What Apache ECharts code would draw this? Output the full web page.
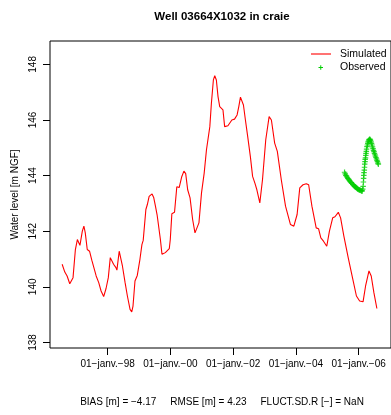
<!DOCTYPE html>
<html>
<head>
<meta charset="utf-8">
<script src="https://cdn.jsdelivr.net/npm/echarts@6/dist/echarts.min.js"></script>
<style>html,body{margin:0;padding:0;background:#fff}#c{width:391px;height:415px}</style>
</head>
<body>
<div id="c"></div>
<script>
// Simulated water level (decimal years, m NGF)
const simYears = [1996.551,1996.636,1996.709,1996.794,1996.847,1996.898,1996.973,1997.036,1997.118,1997.194,1997.244,1997.288,1997.351,1997.424,1997.496,1997.559,1997.635,1997.717,1997.792,1997.874,1997.950,1998.022,1998.085,1998.139,1998.189,1998.265,1998.296,1998.369,1998.400,1998.472,1998.557,1998.630,1998.715,1998.769,1998.809,1998.872,1998.945,1999.030,1999.093,1999.134,1999.219,1999.266,1999.323,1999.417,1999.471,1999.524,1999.575,1999.597,1999.682,1999.732,1999.839,1999.965,1999.997,2000.047,2000.132,2000.205,2000.280,2000.362,2000.431,2000.488,2000.551,2000.627,2000.709,2000.784,2000.835,2000.910,2000.992,2001.077,2001.150,2001.203,2001.257,2001.307,2001.370,2001.414,2001.465,2001.518,2001.572,2001.622,2001.676,2001.729,2001.780,2001.833,2001.887,2001.959,2002.044,2002.126,2002.180,2002.233,2002.274,2002.328,2002.391,2002.463,2002.548,2002.620,2002.693,2002.756,2002.850,2002.935,2003.039,2003.146,2003.219,2003.323,2003.408,2003.534,2003.669,2003.827,2003.934,2004.038,2004.123,2004.227,2004.331,2004.406,2004.510,2004.646,2004.721,2004.794,2004.879,2004.983,2005.068,2005.172,2005.244,2005.351,2005.424,2005.528,2005.666,2005.802,2005.928,2006.031,2006.139,2006.220,2006.328,2006.400,2006.485,2006.580];
const simLevels = [140.81,140.53,140.39,140.11,140.10,140.33,141.34,141.70,141.49,142.00,142.18,141.94,141.34,141.28,140.96,140.90,140.39,140.15,139.85,139.65,139.94,140.33,141.05,141.08,140.81,140.69,140.60,141.28,141.32,140.75,140.15,139.67,139.19,139.10,139.31,140.21,140.41,140.99,141.52,141.67,142.78,142.96,143.25,143.34,143.20,142.90,142.60,142.42,141.70,141.17,141.23,141.37,141.70,142.63,142.68,143.60,143.57,143.96,144.16,144.07,143.49,143.20,142.42,141.94,141.88,142.30,143.38,144.09,144.93,144.99,145.76,146.60,147.44,147.59,147.44,146.84,146.48,146.54,146.36,145.76,145.71,145.79,145.82,146.00,146.03,146.18,146.48,146.82,146.84,146.54,146.00,145.41,144.69,143.97,143.73,143.49,143.02,143.85,145.29,146.12,146.00,145.17,144.87,143.85,142.90,142.24,142.18,142.60,143.56,143.67,143.71,143.67,142.90,142.12,142.09,141.76,141.64,141.46,142.00,142.48,142.52,142.68,142.48,141.82,141.05,140.33,139.67,139.49,139.46,140.03,140.57,140.39,139.79,139.22];
// Observed water level
const obsYears = [2005.550,2005.572,2005.591,2005.613,2005.631,2005.654,2005.676,2005.698,2005.720,2005.742,2005.764,2005.786,2005.811,2005.833,2005.855,2005.877,2005.896,2005.918,2005.940,2005.962,2005.984,2006.006,2006.028,2006.050,2006.072,2006.094,2006.113,2006.129,2006.142,2006.151,2006.157,2006.164,2006.170,2006.180,2006.186,2006.192,2006.202,2006.208,2006.217,2006.227,2006.233,2006.243,2006.252,2006.265,2006.277,2006.290,2006.302,2006.315,2006.331,2006.346,2006.362,2006.378,2006.394,2006.409,2006.425,2006.441,2006.457,2006.472,2006.488,2006.504,2006.520,2006.535,2006.551,2006.567,2006.583,2006.598,2006.614,2006.627];
const obsLevels = [144.12,144.06,144.01,143.98,143.94,143.90,143.87,143.84,143.80,143.77,143.75,143.72,143.68,143.66,143.63,143.61,143.59,143.57,143.55,143.52,143.51,143.49,143.48,143.47,143.46,143.45,143.45,143.51,143.61,143.77,143.90,144.01,144.11,144.20,144.30,144.41,144.50,144.58,144.64,144.73,144.80,144.87,144.95,145.04,145.10,145.16,145.21,145.25,145.29,145.31,145.30,145.27,145.21,145.16,145.10,145.03,144.97,144.91,144.86,144.80,144.75,144.70,144.65,144.60,144.55,144.50,144.45,144.41];
// Axis ticks
const xTickYears = [1998, 2000, 2002, 2004, 2006];
const xTickLabels = ['01−janv.−98','01−janv.−00','01−janv.−02','01−janv.−04','01−janv.−06'];
const yTicks = [138, 140, 142, 144, 146, 148];
const titleText = 'Well 03664X1032 in craie';
const statsText = 'BIAS [m] = −4.17     RMSE [m] = 4.23     FLUCT.SD.R [−] = NaN';
const yName = 'Water level [m NGF]';
const legendNames = ['Simulated', 'Observed'];

const FONT = '"Liberation Sans", Arial, Helvetica, sans-serif';
const RED = '#FF0000', GREEN = '#00CD00';
const PLUS = 'path://M-0.22,-1L0.22,-1L0.22,-0.22L1,-0.22L1,0.22L0.22,0.22L0.22,1L-0.22,1L-0.22,0.22L-1,0.22L-1,-0.22L-0.22,-0.22Z';

const chart = echarts.init(document.getElementById('c'), null, {renderer: 'canvas'});
chart.setOption({
  animation: false,
  backgroundColor: '#fff',
  title: [
    {text: titleText, left: 222, top: 11, padding: 0, textAlign: 'center',
     textStyle: {fontFamily: FONT, fontSize: 11.5, fontWeight: 'bold', color: '#000'}},
    {text: statsText, left: 222, top: 397, padding: 0, textAlign: 'center',
     textStyle: {fontFamily: FONT, fontSize: 10, fontWeight: 'normal', color: '#000'}}
  ],
  grid: {left: 50, top: 41, right: -4, bottom: 67, show: true, borderColor: '#000', borderWidth: 1, backgroundColor: 'transparent'},
  xAxis: {
    type: 'value', min: 1996.164, max: 2007.03,
    splitLine: {show: false},
    axisLine: {show: false},
    axisTick: {show: true, length: 7, inside: false, customValues: xTickYears, lineStyle: {color: '#000'}},
    axisLabel: {customValues: xTickYears, margin: 11, fontFamily: FONT, fontSize: 10, color: '#000',
      formatter: v => { const i = xTickYears.indexOf(Math.round(v)); return i >= 0 ? xTickLabels[i] : ''; }}
  },
  yAxis: {
    type: 'value', min: 137.8, max: 148.84,
    name: yName, nameLocation: 'middle', nameGap: 29,
    nameTextStyle: {fontFamily: FONT, fontSize: 10, color: '#000'},
    splitLine: {show: false},
    axisLine: {show: false},
    axisTick: {show: true, length: 7, inside: false, customValues: yTicks, lineStyle: {color: '#000'}},
    axisLabel: {customValues: yTicks, rotate: 90, margin: 12, fontFamily: FONT, fontSize: 10, color: '#000'}
  },
  series: [
    {name: legendNames[0], type: 'line', symbol: 'none', showSymbol: false, clip: true,
     lineStyle: {color: RED, width: 1.1}, itemStyle: {color: RED},
     data: simYears.map((x, i) => [x, simLevels[i]])},
    {name: legendNames[1], type: 'scatter', symbol: PLUS, symbolSize: 5.5, clip: true,
     itemStyle: {color: GREEN},
     data: obsYears.map((x, i) => [x, obsLevels[i]])}
  ],
  graphic: [
    {type: 'line', shape: {x1: 311, y1: 54, x2: 331, y2: 54}, style: {stroke: RED, lineWidth: 1.1}},
    {type: 'text', x: 340, y: 54, style: {text: legendNames[0], fontFamily: FONT, fontSize: 10.5, fill: '#000', verticalAlign: 'middle'}},
    {type: 'line', shape: {x1: 318.5, y1: 67.5, x2: 323, y2: 67.5}, style: {stroke: GREEN, lineWidth: 1}},
    {type: 'line', shape: {x1: 320.75, y1: 65.25, x2: 320.75, y2: 69.75}, style: {stroke: GREEN, lineWidth: 1}},
    {type: 'text', x: 340, y: 67.5, style: {text: legendNames[1], fontFamily: FONT, fontSize: 10.5, fill: '#000', verticalAlign: 'middle'}}
  ]
});
</script>
</body>
</html>
